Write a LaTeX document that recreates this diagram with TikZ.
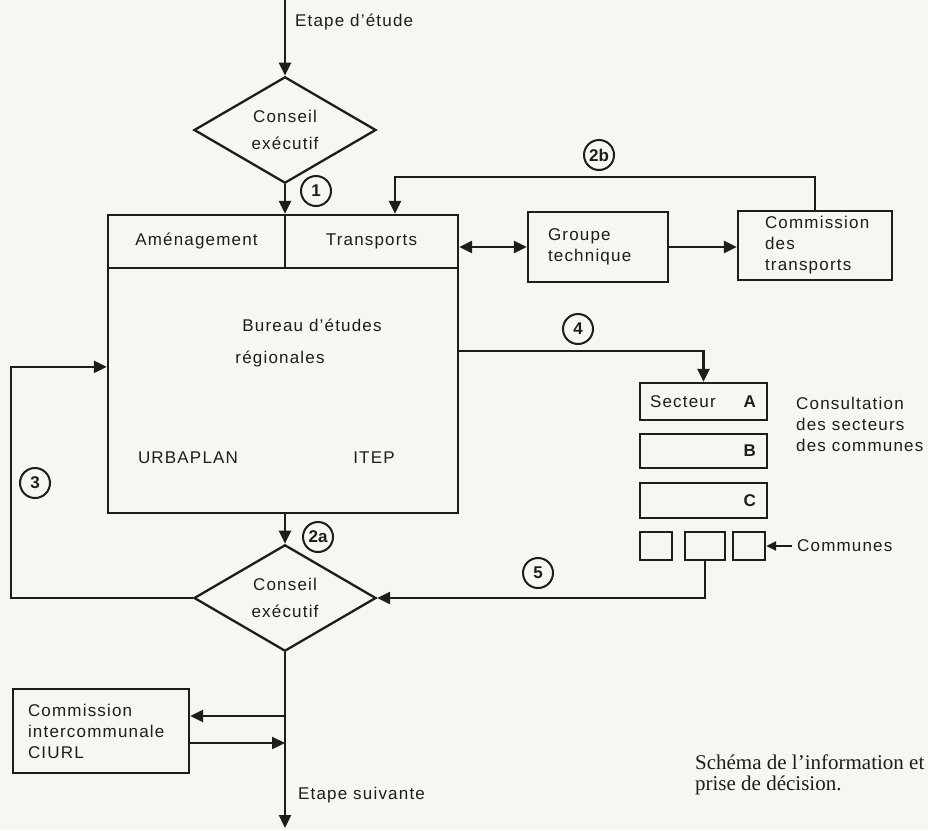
\documentclass[tikz,border=0pt]{standalone}
\usepackage{fontspec}
\setmainfont{Liberation Sans}[LetterSpace=7]
\newfontfamily\numfont{Liberation Sans}
\newfontfamily\capfont{Liberation Serif}
\usetikzlibrary{shapes.geometric,arrows.meta,calc}
\definecolor{paper}{RGB}{248,246,241}
\definecolor{ink}{RGB}{30,28,28}
\begin{document}
\begin{tikzpicture}[x=1pt,y=-1pt, line width=2.3pt, draw=ink, text=ink,
  every node/.style={font=\fontsize{17}{21}\selectfont, inner sep=0pt, text=ink},
  box/.style={draw=ink, rectangle, line width=2.3pt},
  dia/.style={draw=ink, diamond, minimum width=182pt, minimum height=98pt, align=center, line width=2.3pt},
  arr/.style={-{Triangle[length=13pt,width=12pt]}},
  darr/.style={{Triangle[length=13pt,width=12pt]}-{Triangle[length=13pt,width=12pt]}},
  sarr/.style={-{Triangle[length=10pt,width=9pt]}},
  num/.style={draw=ink, circle, minimum size=30pt, line width=2pt, font=\numfont\fontsize{17}{17}\selectfont\bfseries},
  captxt/.style={anchor=west, font=\capfont\fontsize{21}{24}\selectfont},
]
\fill[paper] (0,0) rectangle (928,830);
\useasboundingbox (0,0) rectangle (928,830);

% top diamond and main block
\coordinate (top) at (285,0);
\node[dia] (d1) at (285,130) {Conseil\\[6pt]exécutif};
\node[box, minimum width=177pt, minimum height=53pt] (amen) at (196.5,241.5) {Aménagement};
\node[box, minimum width=173pt, minimum height=53pt] (trans) at (371.5,241.5) {Transports};
\node[box, minimum width=350pt, minimum height=245pt] (bur) at (283,390.5) {};
\node (bt1) at (312,325) {Bureau d’études};
\node (bt2) at (280,359) {régionales};
\node (urb) at (188,458) {URBAPLAN};
\node (itep) at (374,458) {ITEP};

% right side
\node[box, minimum width=140pt, minimum height=70pt, text width=100pt, align=left] (gt) at (598,247) {Groupe\\technique};
\node[box, minimum width=154pt, minimum height=69pt, text width=100pt, align=left] (ct) at (815,245.5) {Commission\\des\\transports};

\node[box, minimum width=127pt, minimum height=37pt, text width=107pt] (sA) at (703.5,401.5) {Secteur\hfill\textbf{A}};
\node[box, minimum width=127pt, minimum height=34pt, text width=107pt] (sB) at (703.5,451) {\hfill\textbf{B}};
\node[box, minimum width=127pt, minimum height=35pt, text width=107pt] (sC) at (703.5,500.5) {\hfill\textbf{C}};
\node[box, minimum width=32pt, minimum height=28pt] (c1) at (656,546) {};
\node[box, minimum width=40pt, minimum height=28pt] (c2) at (705,546) {};
\node[box, minimum width=32pt, minimum height=28pt] (c3) at (749,546) {};
\node[anchor=west] (com) at (796,546) {Communes};
\node[anchor=west, align=left] (cons) at (795,424) {Consultation\\des secteurs\\des communes};

% lower part
\node[dia] (d2) at (285,598) {Conseil\\[6pt]exécutif};
\node[box, minimum width=176pt, minimum height=84pt, text width=146pt, align=left] (ciurl) at (101,731) {Commission\\intercommunale\\CIURL};
\coordinate (bot) at (285,828);

% labels
\node[anchor=west] (et1) at (294,22) {Etape d’étude};
\node[anchor=west] (et2) at (297,795) {Etape suivante};
\node[num] (n1) at (316,191) {1};
\node[num] (n2b) at (599,155) {2b};
\node[num] (n4) at (578,329) {4};
\node[num] (n3) at (35,483) {3};
\node[num] (n2a) at (318,537) {2a};
\node[num] (n5) at (538,573) {5};

\node[captxt] (cap) at (694,762) {Schéma de l’information et};
\node[captxt] (cap2) at (694,785) {prise de décision.};

% connectors
\draw[arr] (top) -- (d1.north);
\draw[arr] (d1.south) -- (d1.south |- amen.north);
\draw[darr] (gt.west -| trans.east) -- (gt.west);
\draw[arr] (gt.east) -- (gt.east -| ct.west);
\coordinate (t2b) at ($(trans.north)+(23.5,0)$);
\draw[arr] (ct.north) -- ++(0,-33) -| (t2b);
\coordinate (o4) at ($(bur.north east)+(0,84)$);
\draw[arr] (o4) -| (sA.north);
\coordinate (i3) at ($(bur.north west)+(0,100)$);
\draw[arr] (d2.west) -- ++(-182,0) |- (i3);
\draw[arr] (d2.north |- bur.south) -- (d2.north);
\draw[arr] (c2.south) |- (d2.east);
\draw[sarr] ([xshift=-4pt]com.west) -- (c3.east);
\draw[arr] (d2.south) -- (bot);
\coordinate (ci1) at ($(ciurl.east)+(0,-15)$);
\coordinate (ci2) at ($(ciurl.east)+(0,12)$);
\draw[arr] (d2.south |- ci1) -- (ci1);
\draw[arr] (ci2) -- (d2.south |- ci2);
\end{tikzpicture}
\end{document}
